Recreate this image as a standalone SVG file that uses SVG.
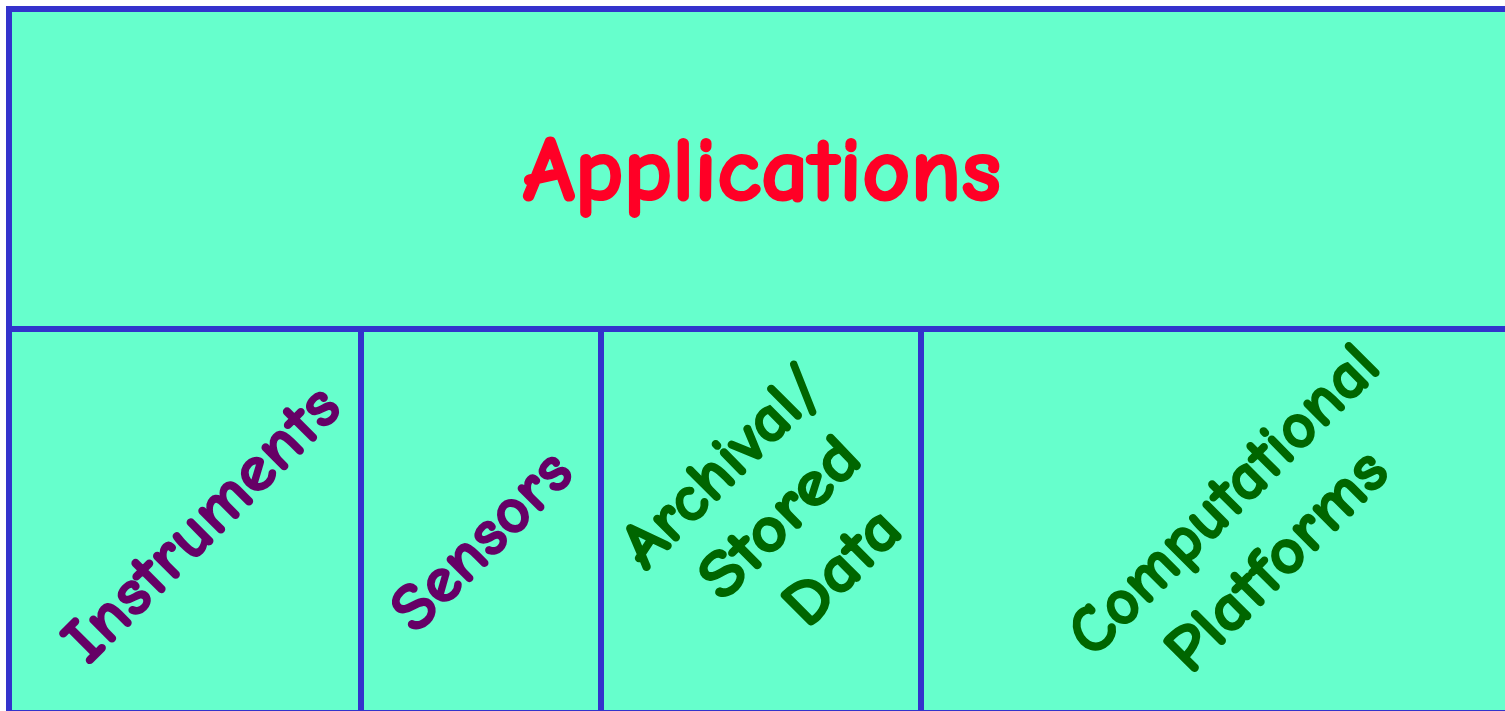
<svg xmlns="http://www.w3.org/2000/svg" width="1505" height="711" viewBox="0 0 1505 711">
  <style>
    .cell { fill: #66FFCC; stroke: #3333CC; stroke-width: 6; }
    .lbl { font-family: "Comic Sans MS", "Comic Neue", "DejaVu Sans", sans-serif; font-weight: bold; text-anchor: middle; stroke-linejoin: round; }
    .title { font-size: 92px; fill: #FF0026; stroke: #FF0026; stroke-width: 2.2; }
    .purple { font-size: 66px; fill: #660066; stroke: #660066; stroke-width: 1.6; }
    .green { font-size: 66px; fill: #006600; stroke: #006600; stroke-width: 1.6; }
  </style>
  <rect x="0" y="0" width="1505" height="711" fill="#FFFFFF"/>
  <g id="applications">
    <rect class="cell" x="9" y="9" width="1502" height="320"/>
    <text class="lbl title" x="762" y="200" textLength="478" lengthAdjust="spacingAndGlyphs">Applications</text>
  </g>
  <g id="instruments">
    <rect class="cell" x="9" y="329" width="352" height="384"/>
    <text class="lbl purple" transform="translate(200,522) rotate(-45)" x="0" y="23" textLength="362" lengthAdjust="spacingAndGlyphs">Instruments</text>
  </g>
  <g id="sensors">
    <rect class="cell" x="361" y="329" width="240" height="384"/>
    <text class="lbl purple" transform="translate(480,539) rotate(-45)" x="0" y="23" textLength="226" lengthAdjust="spacingAndGlyphs">Sensors</text>
  </g>
  <g id="archival-stored-data">
    <rect class="cell" x="601" y="329" width="320" height="384"/>
    <text class="lbl green" transform="translate(720,465) rotate(-45)" x="0" y="23" textLength="256" lengthAdjust="spacingAndGlyphs">Archival/</text>
    <text class="lbl green" transform="translate(778,516) rotate(-45)" x="0" y="23" textLength="200" lengthAdjust="spacingAndGlyphs">Stored</text>
    <text class="lbl green" transform="translate(840,565) rotate(-45)" x="0" y="23" textLength="138" lengthAdjust="spacingAndGlyphs">Data</text>
  </g>
  <g id="computational-platforms">
    <rect class="cell" x="921" y="329" width="590" height="384"/>
    <text class="lbl green" transform="translate(1222,498) rotate(-45)" x="0" y="23" textLength="410" lengthAdjust="spacingAndGlyphs">Computational</text>
    <text class="lbl green" transform="translate(1275,559) rotate(-45)" x="0" y="23" textLength="285" lengthAdjust="spacingAndGlyphs">Platforms</text>
  </g>
</svg>
